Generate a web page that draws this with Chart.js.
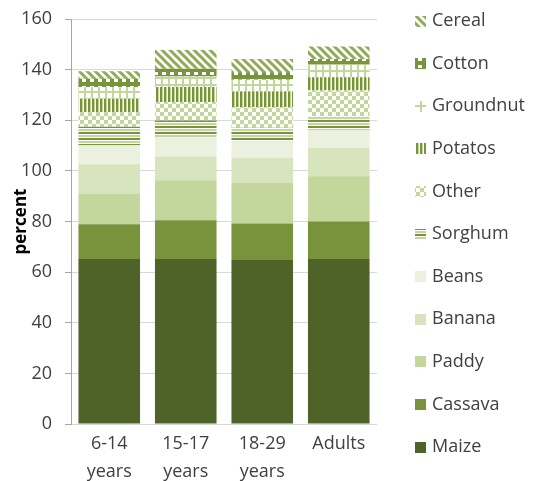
<!DOCTYPE html>
<html>
<head>
<meta charset="utf-8">
<script src="https://cdn.jsdelivr.net/npm/chart.js@4/dist/chart.umd.min.js"></script>
<style>
  html, body { margin: 0; padding: 0; background: #fff; }
  #wrap { width: 536px; height: 481px; position: relative; }
</style>
</head>
<body>
<div id="wrap"><canvas id="chart"></canvas></div>
<script>
// Chart data
const groups = [['6-14', 'years'], ['15-17', 'years'], ['18-29', 'years'], 'Adults'];
const crops = ['Maize', 'Cassava', 'Paddy', 'Banana', 'Beans', 'Sorghum', 'Other', 'Potatos', 'Groundnut', 'Cotton', 'Cereal'];

const maize     = [65.2, 65.2, 64.8, 65.2];
const cassava   = [13.7, 15.3, 14.4, 14.8];
const paddy     = [12.2, 15.8, 16.0, 17.9];
const banana    = [11.5,  9.4, 10.0, 11.1];
const beans     = [ 7.5,  7.6,  6.4,  7.0];
const sorghum   = [ 7.3,  6.6,  5.4,  5.5];
const other     = [ 5.8,  7.2,  8.2, 10.3];
const potatos   = [ 5.3,  6.0,  6.2,  5.2];
const groundnut = [ 4.6,  4.2,  4.6,  5.0];
const cotton    = [ 3.3,  3.0,  3.0,  2.2];
const cereal    = [ 3.0,  7.5,  5.2,  4.9];

const yTicks = [0, 20, 40, 60, 80, 100, 120, 140, 160];

const DARK = '#4f6228', MID = '#77933c', LIGHT = '#c3d69b', PALE = '#d7e4bd', PALEST = '#ebf1de';

// small tiles turned into canvas patterns
function tile(w, h, draw) {
  const c = document.createElement('canvas');
  c.width = w; c.height = h;
  const g = c.getContext('2d');
  draw(g, w, h);
  return g.createPattern(c, 'repeat');
}

const patSorghum = tile(1, 6, (g) => {
  g.fillStyle = '#fff'; g.fillRect(0, 0, 1, 6);
  g.fillStyle = MID; g.fillRect(0, 0, 1, 2);
  g.fillStyle = LIGHT; g.fillRect(0, 3, 1, 2);
});
const patOther = tile(8, 8, (g) => {
  g.fillStyle = '#fff'; g.fillRect(0, 0, 8, 8);
  g.fillStyle = LIGHT;
  g.fillRect(0, 0, 4, 4);
  g.fillRect(4, 4, 4, 4);
});
const patPotatos = tile(4, 1, (g) => {
  g.fillStyle = '#fff'; g.fillRect(0, 0, 4, 1);
  g.fillStyle = MID; g.fillRect(0, 0, 2, 1);
  g.fillStyle = LIGHT; g.fillRect(2, 0, 1, 1);
});
const patGroundnut = tile(7, 7, (g) => {
  g.fillStyle = '#fff'; g.fillRect(0, 0, 7, 7);
  g.fillStyle = LIGHT;
  g.fillRect(0, 0, 2, 7);
  g.fillRect(0, 0, 7, 2);
});
const patCotton = tile(8, 7, (g) => {
  g.fillStyle = MID; g.fillRect(0, 0, 8, 7);
  g.fillStyle = '#fff'; g.fillRect(2, 2, 4, 3);
});
const patCereal = tile(8, 8, (g) => {
  g.fillStyle = '#fff'; g.fillRect(0, 0, 8, 8);
  g.strokeStyle = '#8fab56'; g.lineWidth = 3;
  g.beginPath();
  g.moveTo(-2, -2); g.lineTo(10, 10);
  g.moveTo(-6, 2); g.lineTo(2, 10);
  g.moveTo(6, -2); g.lineTo(10, 2);
  g.stroke();
});

const seriesValues = [maize, cassava, paddy, banana, beans, sorghum, other, potatos, groundnut, cotton, cereal];
const seriesFills = [DARK, MID, LIGHT, PALE, PALEST, patSorghum, patOther, patPotatos, patGroundnut, patCotton, patCereal];

const datasets = crops.map((name, i) => ({
  label: name,
  data: seriesValues[i],
  backgroundColor: seriesFills[i],
  borderWidth: 0,
  categoryPercentage: 1,
  barPercentage: 0.805
}));

const FONT = 'Open Sans';

// legend on the right, drawn by hand so the spacing matches
const sideLegend = {
  id: 'sideLegend',
  afterDraw(chart) {
    const ctx = chart.ctx;
    ctx.save();
    ctx.font = '18px "' + FONT + '"';
    ctx.textBaseline = 'middle';
    const n = chart.data.datasets.length;
    for (let k = 0; k < n; k++) {
      const ds = chart.data.datasets[n - 1 - k];
      const cy = 21 + k * 42.6;
      ctx.fillStyle = ds.backgroundColor;
      ctx.fillRect(415, Math.round(cy - 5.5), 11, 11);
      ctx.fillStyle = '#404040';
      ctx.fillText(ds.label, 432, cy);
    }
    ctx.restore();
  }
};

window.addEventListener('DOMContentLoaded', () => {
  new Chart(document.getElementById('chart'), {
    type: 'bar',
    data: { labels: groups, datasets: datasets },
    options: {
      responsive: true,
      maintainAspectRatio: false,
      animation: false,
      layout: { padding: { top: 19, right: 159, bottom: 0, left: 0 } },
      plugins: {
        legend: { display: false },
        tooltip: { enabled: false }
      },
      scales: {
        x: {
          stacked: true,
          grid: { display: false, drawTicks: false },
          border: { display: false },
          ticks: {
            padding: 6,
            color: '#404040',
            font: { family: FONT, size: 18, lineHeight: 1.55 }
          },
          afterFit(scale) { scale.height = 57; }
        },
        y: {
          stacked: true,
          min: 0,
          max: 160,
          afterBuildTicks(scale) { scale.ticks = yTicks.map(v => ({ value: v })); },
          grid: {
            color: '#d9d9d9',
            tickColor: '#a6a6a6',
            tickLength: 6
          },
          border: { display: true, color: '#a6a6a6', width: 1 },
          ticks: {
            padding: 13,
            color: '#404040',
            font: { family: FONT, size: 18, lineHeight: 0.6 }
          },
          title: {
            display: true,
            text: 'percent',
            color: '#000',
            padding: { top: 11, bottom: 0 },
            font: { family: FONT, size: 17, weight: 'bold', lineHeight: 1.2 }
          },
          afterFit(scale) { scale.width = 71; }
        }
      }
    },
    plugins: [sideLegend]
  });
});
</script>
</body>
</html>
